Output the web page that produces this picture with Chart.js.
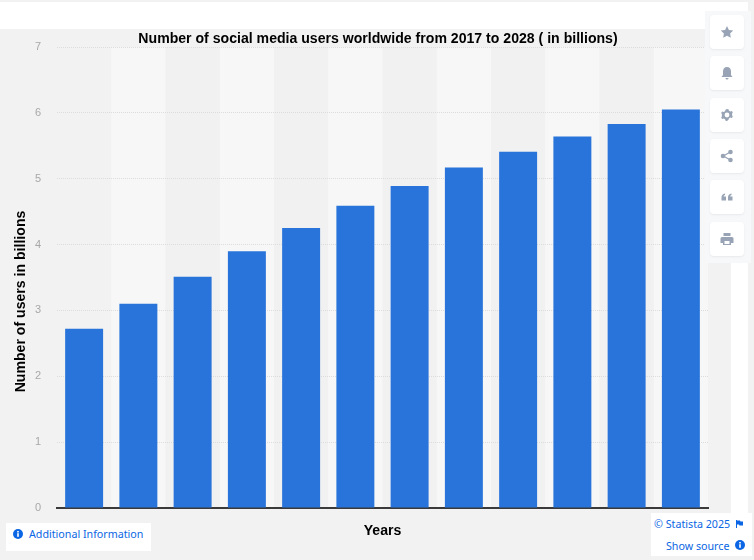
<!DOCTYPE html>
<html><head><meta charset="utf-8">
<script src="https://cdn.jsdelivr.net/npm/chart.js@4"></script>
<style>
html,body{margin:0;padding:0;width:754px;height:560px;overflow:hidden;background:#f2f2f2}
#c{position:absolute;left:0;top:0}
.o{position:absolute}
.t{font:10.7px/15px "Noto Sans",sans-serif;color:#0a66e4;white-space:nowrap;position:absolute}
.b{position:absolute;left:5px;width:34px;height:34px;background:#fff;border-radius:4px;box-shadow:0 1px 2px rgba(120,130,150,.12)}
.b svg{position:absolute;left:10px;top:10px;width:14px;height:14px;fill:#98a4b5}
</style></head><body>
<canvas id="c" width="754" height="560"></canvas>
<div class="o" style="left:0;top:2px;width:748px;height:27px;background:#fff"></div>
<div class="o" style="left:731px;top:255px;width:17px;height:260px;background:#fff"></div>
<div class="o" style="left:705px;top:11px;width:46px;height:252px;background:#f7f8f9">
 <div class="b" style="top:4px"><svg viewBox="0 0 14 14"><path d="M7 1l1.900 3.900 4.300.6-3.100 3 .7 4.300L7 10.800l-3.800 2 .7-4.300-3.100-3 4.300-.6z"/></svg></div>
 <div class="b" style="top:45px"><svg viewBox="0 0 14 14"><path d="M7 1c2.600 0 4 2 4 4.500V9l1.500 2h-11L3 9V5.500C3 3 4.400 1 7 1zM5.500 12h3a1.500 1.500 0 0 1-3 0z"/></svg></div>
 <div class="b" style="top:87px"><svg viewBox="0 0 14 14"><path fill-rule="evenodd" d="M7 1l1.500.3.5 1.500 1.300.7 1.500-.4 1 1.200-.7 1.400v1.600l.7 1.400-1 1.200-1.500-.4-1.300.7-.5 1.500L7 13l-1.500-.3-.5-1.500-1.300-.7-1.500.4-1-1.200.7-1.400V6.200L1.200 4.800l1-1.200 1.500.4L5 3.300l.5-1.500zM7 4.600a2.400 2.400 0 1 0 0 4.800 2.400 2.400 0 0 0 0-4.800z"/></svg></div>
 <div class="b" style="top:128px"><svg viewBox="0 0 14 14"><circle cx="3" cy="7" r="2.300"/><circle cx="10.500" cy="3" r="2.300"/><circle cx="10.500" cy="11" r="2.300"/><path d="M3 6.500L10 2.500l.6 1L3.600 7.500zM3 7.500l7 4 .6-1-7-4z"/></svg></div>
 <div class="b" style="top:169px"><svg viewBox="0 0 14 14"><path d="M1.500 7.500C1.500 5.500 2.500 4 5 3.500v1.400C4 5.200 3.700 5.800 3.600 6.500H6v4H1.500zM8 7.500C8 5.500 9 4 11.500 3.500v1.400c-1 .3-1.300.9-1.400 1.600h2.400v4H8z"/></svg></div>
 <div class="b" style="top:211px"><svg viewBox="0 0 14 14"><path fill-rule="evenodd" d="M3.500 1h7v3h-7zM2 5h10a1.500 1.500 0 0 1 1.500 1.500V11H11v2H3v-2H.5V6.500A1.500 1.500 0 0 1 2 5zM4.500 9v3h5V9z"/></svg></div>
</div>
<div class="o" style="left:6px;top:523px;width:145px;height:28px;background:#fff"></div>
<svg class="o" style="left:13px;top:529px" width="10" height="10" viewBox="0 0 10 10"><circle cx="5" cy="5" r="5" fill="#0a66e4"/><rect x="4.200" y="4.200" width="1.600" height="3.600" fill="#fff"/><rect x="4.200" y="2" width="1.600" height="1.500" fill="#fff"/></svg>
<div class="t" style="left:29px;top:527px">Additional Information</div>
<div class="o" style="left:651px;top:513px;width:101px;height:43px;background:#fff"></div>
<div class="t" style="left:654px;top:517px">© Statista 2025</div>
<svg class="o" style="left:736px;top:520px" width="7" height="8" viewBox="0 0 7 8"><path d="M0 0h1v8H0zM1 .5h3l.5 1H7v4H3.500L3 4.500H1z" fill="#0a66e4"/></svg>
<div class="t" style="left:666px;top:539px">Show source</div>
<svg class="o" style="left:735px;top:540px" width="10" height="10" viewBox="0 0 10 10"><circle cx="5" cy="5" r="5" fill="#0a66e4"/><rect x="4.200" y="4.200" width="1.600" height="3.600" fill="#fff"/><rect x="4.200" y="2" width="1.600" height="1.500" fill="#fff"/></svg>
<script>
const categories = ["2017","2018","2019","2020","2021","2022","2023","2024","2025","2026","2027","2028"];
const users = [2.72,3.10,3.51,3.90,4.25,4.59,4.89,5.17,5.41,5.64,5.83,6.05];
const chartTitle = "Number of social media users worldwide from 2017 to 2028 ( in billions)";
const yTitle = "Number of users in billions";
const xTitle = "Years";

const bands = {
  id:"bands",
  beforeDraw(chart){
    const {ctx,chartArea:a,scales:{x}} = chart;
    const half = (x.getPixelForValue(1)-x.getPixelForValue(0))/2;
    categories.forEach((_,i)=>{
      ctx.fillStyle = i%2 ? "#f7f7f7" : "#f1f1f1";
      if(i===0) ctx.fillStyle="#f2f2f2";
      const p = x.getPixelForValue(i);
      ctx.fillRect(p-half,a.top,half*2,a.bottom-a.top);
    });
  }
};
const shiftTitles = {
  id:"shiftTitles",
  afterLayout(chart){
    const y=chart.scales.y; y.top+=24; y.bottom+=24;
    const t=chart.titleBlock; t.left+=24; t.right+=24; t.top+=0.5; t.bottom+=0.5;
  }
};

new Chart(document.getElementById("c"),{
  type:"bar",
  data:{labels:categories,datasets:[{data:users,backgroundColor:"#2874da",barPercentage:0.7,categoryPercentage:1}]},
  plugins:[bands,shiftTitles],
  options:{
    responsive:false,animation:false,
    layout:{padding:{left:0,right:46,top:0,bottom:0}},
    plugins:{
      legend:{display:false},tooltip:{enabled:false},
      title:{display:true,text:chartTitle,color:"#000",font:{family:"Liberation Sans",size:14.1,weight:"bold",lineHeight:1.2},padding:{top:30.08,bottom:0}}
    },
    scales:{
      x:{
        afterFit(s){s.height=52;},
        grid:{display:false},
        border:{color:"#3a3a3a",width:2},
        ticks:{display:false},
        title:{display:true,text:xTitle,color:"#000",font:{family:"Liberation Sans",size:14.1,weight:"bold",lineHeight:1.2},padding:{top:0,bottom:20}}
      },
      y:{
        min:0,max:7,
        afterFit(s){s.width=57;},
        grid:{color:"#dcdcdc",lineWidth:1,drawTicks:false},
        border:{display:false,dash:[1,1]},
        ticks:{stepSize:1,color:"#a8a8a8",padding:16,font:{family:"Liberation Sans",size:11}},
        title:{display:true,text:yTitle,color:"#000",font:{family:"Liberation Sans",size:14.1,weight:"bold",lineHeight:1.2},padding:{top:13,bottom:0}}
      }
    }
  }
});
</script>
</body></html>
